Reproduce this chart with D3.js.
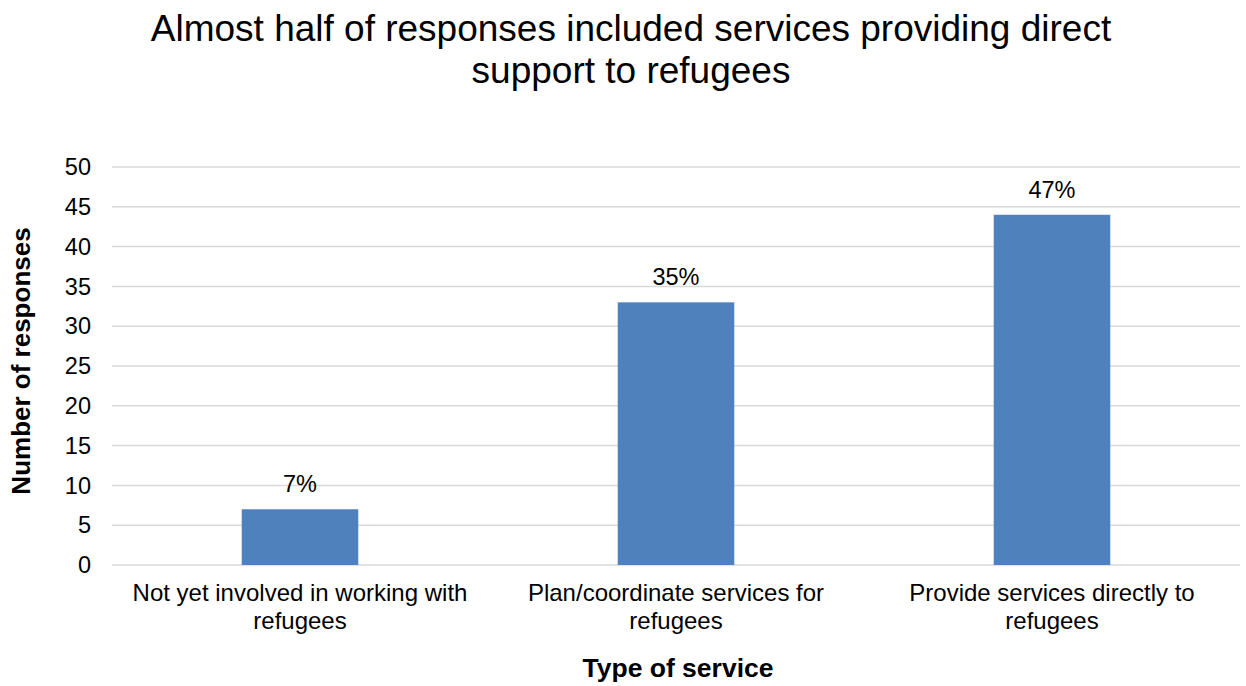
<!DOCTYPE html>
<html>
<head>
<meta charset="utf-8">
<script src="https://cdn.jsdelivr.net/npm/d3@7"></script>
<style>
  body { margin: 0; background: #fff; }
  svg { font-family: "Liberation Sans", Arial, sans-serif; }
</style>
</head>
<body>
<div id="chart"></div>
<script>
const categories = [
  ["Not yet involved in working with", "refugees"],
  ["Plan/coordinate services for", "refugees"],
  ["Provide services directly to", "refugees"]
];
const values = [7, 33, 44];
const labels = ["7%", "35%", "47%"];
const yTicks = [0, 5, 10, 15, 20, 25, 30, 35, 40, 45, 50];
const titleLines = ["Almost half of responses included services providing direct", "support to refugees"];

const width = 1246, height = 686;
const margin = { top: 167, right: 6, bottom: 121, left: 112 };

const svg = d3.select("#chart").append("svg")
  .attr("width", width)
  .attr("height", height);

const x = d3.scaleBand()
  .domain(d3.range(categories.length))
  .range([margin.left, width - margin.right])
  .paddingInner(0.69)
  .paddingOuter(0.345);

const y = d3.scaleLinear()
  .domain([0, 50])
  .range([height - margin.bottom, margin.top]);

// grid
svg.append("g")
  .selectAll("line")
  .data(yTicks)
  .join("line")
  .attr("x1", margin.left)
  .attr("x2", width - margin.right)
  .attr("y1", d => y(d))
  .attr("y2", d => y(d))
  .attr("stroke", "#d9d9d9")
  .attr("stroke-width", 1.5);

// y tick labels
svg.append("g")
  .selectAll("text")
  .data(yTicks)
  .join("text")
  .attr("x", 91)
  .attr("y", d => y(d))
  .attr("dy", "0.35em")
  .attr("text-anchor", "end")
  .attr("font-size", 23.5)
  .attr("fill", "#000")
  .text(d => d);

// bars
svg.append("g")
  .selectAll("rect")
  .data(values)
  .join("rect")
  .attr("x", (d, i) => x(i))
  .attr("width", x.bandwidth())
  .attr("y", d => y(d))
  .attr("height", d => y(0) - y(d))
  .attr("fill", "#4f81bd");

// data labels
svg.append("g")
  .selectAll("text")
  .data(values)
  .join("text")
  .attr("x", (d, i) => x(i) + x.bandwidth() / 2)
  .attr("y", d => y(d) - 17)
  .attr("text-anchor", "middle")
  .attr("font-size", 23.5)
  .attr("fill", "#000")
  .text((d, i) => labels[i]);

// category labels
const cat = svg.append("g")
  .selectAll("text")
  .data(categories)
  .join("text")
  .attr("text-anchor", "middle")
  .attr("font-size", 24)
  .attr("fill", "#000");
cat.selectAll("tspan")
  .data((d, i) => d.map(t => ({ t, i })))
  .join("tspan")
  .attr("x", d => x(d.i) + x.bandwidth() / 2)
  .attr("y", (d, j) => 601 + j * 27.5)
  .text(d => d.t);

// title
svg.append("text")
  .attr("text-anchor", "middle")
  .attr("font-size", 37)
  .attr("fill", "#000")
  .selectAll("tspan")
  .data(titleLines)
  .join("tspan")
  .attr("x", 631)
  .attr("y", (d, i) => 41 + i * 42)
  .text(d => d);

// axis titles
svg.append("text")
  .attr("x", 678)
  .attr("y", 677)
  .attr("text-anchor", "middle")
  .attr("font-size", 26.5)
  .attr("font-weight", "bold")
  .text("Type of service");

svg.append("text")
  .attr("transform", "translate(30,361) rotate(-90)")
  .attr("text-anchor", "middle")
  .attr("font-size", 26)
  .attr("font-weight", "bold")
  .text("Number of responses");
</script>
</body>
</html>
